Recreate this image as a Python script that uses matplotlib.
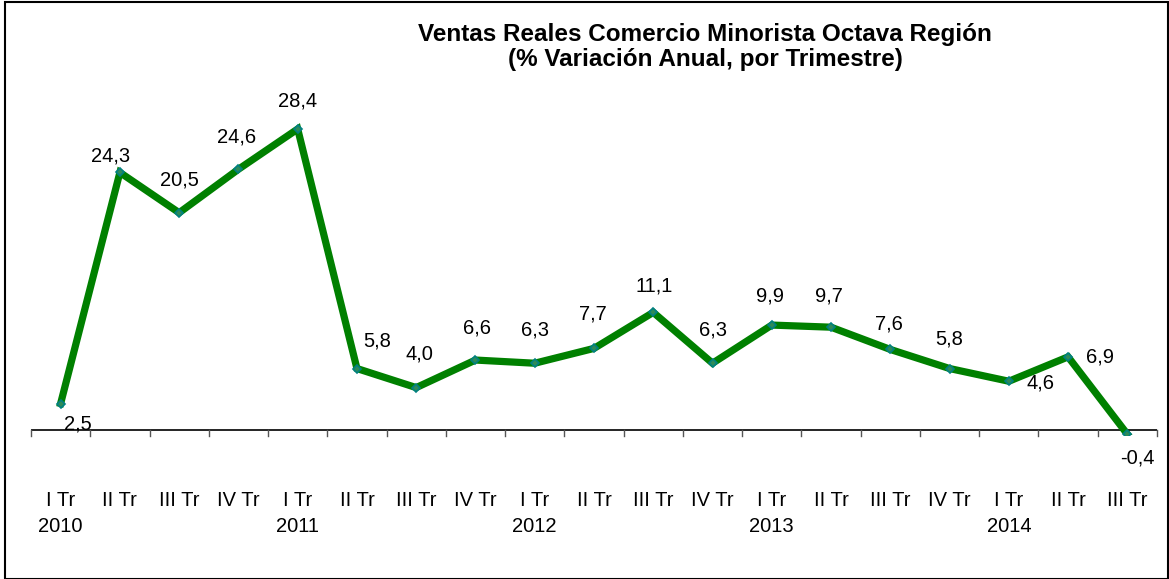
import matplotlib
matplotlib.use('Agg')
import matplotlib.pyplot as plt
from matplotlib.patches import Rectangle

# datos
trimestres = ['I Tr', 'II Tr', 'III Tr', 'IV Tr', 'I Tr', 'II Tr', 'III Tr', 'IV Tr',
              'I Tr', 'II Tr', 'III Tr', 'IV Tr', 'I Tr', 'II Tr', 'III Tr', 'IV Tr',
              'I Tr', 'II Tr', 'III Tr']
anios = ['2010', '', '', '', '2011', '', '', '', '2012', '', '', '', '2013', '', '', '',
         '2014', '', '']
variacion = [2.5, 24.3, 20.5, 24.6, 28.4, 5.8, 4.0, 6.6, 6.3, 7.7, 11.1, 6.3, 9.9, 9.7,
             7.6, 5.8, 4.6, 6.9, -0.4]

# desplazamiento de las etiquetas (px)
offsets = [(17, -20), (-9, 16), (0, 33), (-2, 32), (0, 28), (20, 28), (3, 34), (2, 32),
           (0, 33), (-1, 34), (1, 26), (0, 33), (-2, 29), (-2, 31), (-1, 25), (0, 30),
           (32, -2), (32, 0), (10, -24)]

plt.rcParams['font.family'] = ['Liberation Sans', 'DejaVu Sans']

W, H = 1169, 579
fig = plt.figure(figsize=(W / 100, H / 100), dpi=100)
# ejes: x de 31 a 1157 px, y 0 en 430 px
ymin, ymax = -0.5, 30
ppu = 301 / 28.4
bottom_px = 430 + (0 - ymin) * ppu
top_px = 430 - ymax * ppu
ax = fig.add_axes([31 / W, 1 - bottom_px / H, (1157 - 31) / W, (bottom_px - top_px) / H])
ax.set_xlim(-0.5, len(variacion) - 0.5)
ax.set_ylim(ymin, ymax)
for s in ax.spines.values():
    s.set_visible(False)
ax.set_yticks([])
ax.set_xticks([])

x = list(range(len(variacion)))
ax.axhline(0, color='black', lw=1.2, zorder=1)
for b in range(len(variacion) + 1):
    ax.plot([b - 0.5, b - 0.5], [0, -6 / ppu], color='#555555', lw=1, clip_on=False)

ax.plot(x, variacion, color='#008000', lw=5.2, marker='D', ms=4,
        mfc='#2e8b57', mec='#008080', mew=1.2, zorder=3, solid_joinstyle='miter')

fs = 14.5
for i, v in enumerate(variacion):
    dx, dy = offsets[i]
    ax.annotate(f'{v:.1f}'.replace('.', ','), (i, v), xytext=(dx * 0.72, dy * 0.72),
                textcoords='offset points', ha='center', va='center', fontsize=fs)

for i in x:
    ax.annotate(trimestres[i], (i, 0), xytext=(0, -70 * 0.72), textcoords='offset points',
                ha='center', va='center', fontsize=fs, annotation_clip=False)
    if anios[i]:
        ax.annotate(anios[i], (i, 0), xytext=(0, -96 * 0.72), textcoords='offset points',
                    ha='center', va='center', fontsize=fs, annotation_clip=False)

fig.text(705 / W, 1 - 47 / H, 'Ventas Reales Comercio Minorista Octava Región\n(% Variación Anual, por Trimestre)',
         ha='center', va='center', fontsize=17.5, fontweight='bold', linespacing=1.15)

fig.patches.append(Rectangle((4.5 / W, 0.5 / H), (1167.5 - 4.5) / W, (577.5 - 0.5) / H,
                             transform=fig.transFigure, fill=False, ec='black', lw=1.5))

fig.savefig('out.png', dpi=100)
